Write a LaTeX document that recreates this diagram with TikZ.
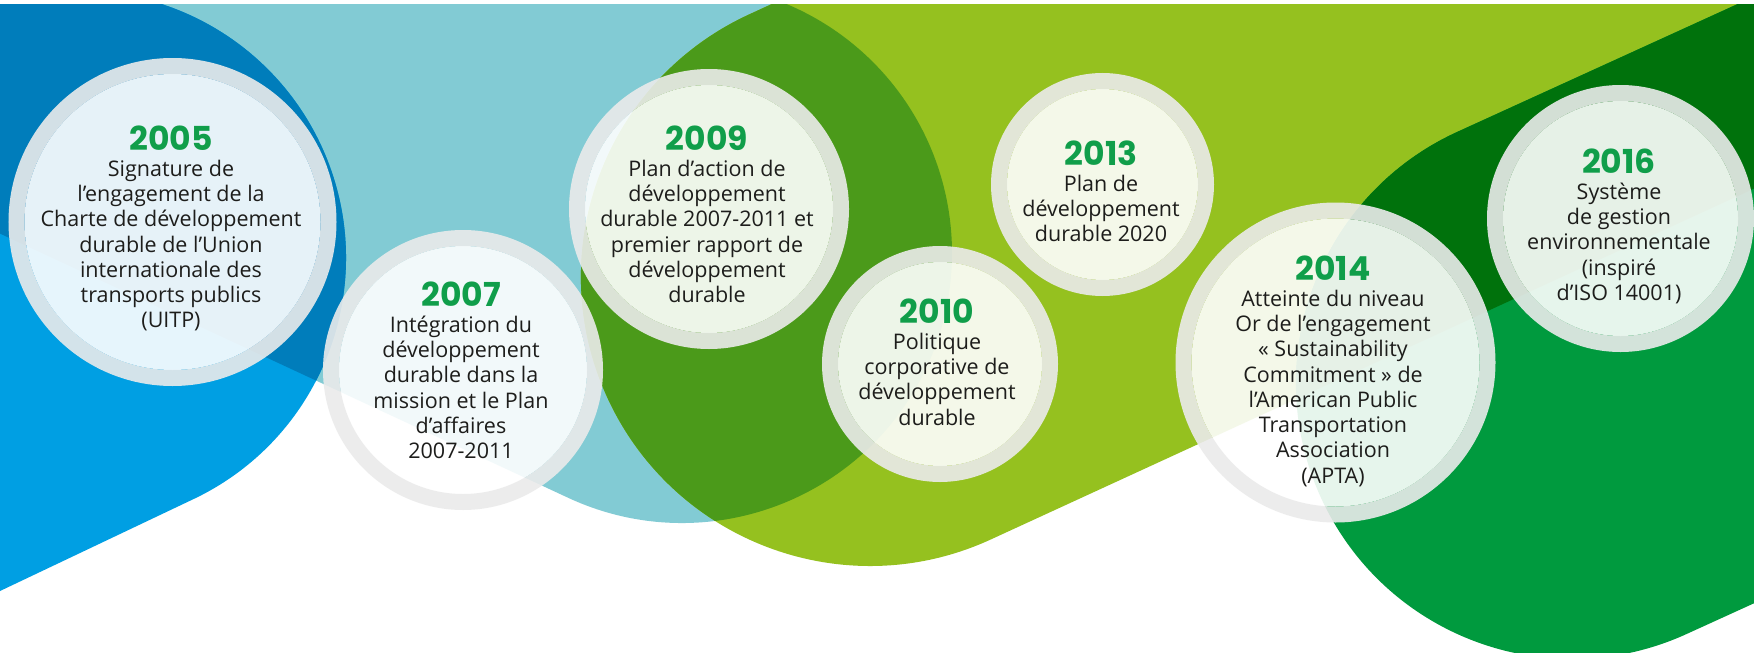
\documentclass[tikz,border=0pt]{standalone}
\usepackage{fontspec}
\setmainfont{Open Sans}
\newfontfamily\yearfont{Poppins}

\definecolor{bandteal}{RGB}{130,203,212}
\definecolor{bandblue}{RGB}{0,159,227}
\definecolor{banddeep}{RGB}{0,125,187}
\definecolor{bandlime}{RGB}{149,193,31}
\definecolor{bandolive}{RGB}{75,154,26}
\definecolor{bandgreen}{RGB}{0,154,62}
\definecolor{bandforest}{RGB}{0,114,12}
\definecolor{ringgray}{RGB}{235,235,235}
\definecolor{yeargreen}{RGB}{16,158,74}
\definecolor{ink}{RGB}{29,29,27}

% les rubans du fond
\newcommand{\blueband}{(-60,619.5) -- (193.5,499.1) arc[start angle=64.6, end angle=-90, radius=267] -- (-60,-9) -- cycle}
\newcommand{\tealband}{(-60,205.7) -- (568.2,497.8) arc[start angle=114.93, end angle=-90, radius=270] -- (-60,-17) -- cycle}
\newcommand{\limeband}{(749.2,14.4) arc[start angle=245.3, end angle=65.3, radius=289] -- (1900,121.4) -- (1900,-515) -- cycle}
\newcommand{\greenband}{(1457.5,131.8) arc[start angle=245.5, end angle=65.5, radius=276] -- (2000,491.2) -- (2000,-115.6) -- cycle}

\newcommand{\yr}[1]{{\yearfont\bfseries\fontsize{33}{25.3}\selectfont\color{yeargreen}#1}\\}

\begin{document}
\begin{tikzpicture}[x=1pt, y=-1pt,
    disc/.style={fill=white, fill opacity=0.9},
    ring/.style={draw=ringgray, draw opacity=0.9, line width=16pt},
    milestone/.style={anchor=north, inner sep=0pt, align=center, text=ink,
      font=\fontsize{21.5}{25.3}\selectfont}]
  \useasboundingbox (0,0) rectangle (1754,653);
  \fill[white] (0,0) rectangle (1754,653);

  \begin{scope}
    \clip (0,4) rectangle (1754,653);
    % bleus
    \fill[bandteal] \tealband;
    \fill[bandblue] \blueband;
    \begin{scope}
      \clip \tealband;
      \fill[banddeep] \blueband;
    \end{scope}
    % verts
    \fill[bandlime] \limeband;
    \begin{scope}
      \clip \tealband;
      \fill[bandolive] \limeband;
    \end{scope}
    \fill[bandgreen] \greenband;
    \begin{scope}
      \clip \limeband;
      \fill[bandforest] \greenband;
    \end{scope}
  \end{scope}

  % bulles
  \coordinate (c2005) at (172.5,222);
  \coordinate (c2007) at (463,370);
  \coordinate (c2009) at (709,209);
  \coordinate (c2010) at (940,364);
  \coordinate (c2013) at (1102.5,184.5);
  \coordinate (c2014) at (1335.5,362.5);
  \coordinate (c2016) at (1620.5,218.5);

  \fill[disc] (c2005) circle[radius=148];   \draw[ring] (c2005) circle[radius=156];
  \fill[disc] (c2007) circle[radius=124];   \draw[ring] (c2007) circle[radius=132];
  \fill[disc] (c2009) circle[radius=124];   \draw[ring] (c2009) circle[radius=132];
  \fill[disc] (c2010) circle[radius=102];   \draw[ring] (c2010) circle[radius=110];
  \fill[disc] (c2013) circle[radius=95.5];  \draw[ring] (c2013) circle[radius=103.5];
  \fill[disc] (c2014) circle[radius=144];   \draw[ring] (c2014) circle[radius=152];
  \fill[disc] (c2016) circle[radius=117.5]; \draw[ring] (c2016) circle[radius=125.5];

  % textes
  \node[milestone] (t2005) at (171,126) {\yr{2005}Signature de\\l’engagement de la\\Charte de développement\\durable de l’Union\\internationale des\\transports publics\\(UITP)};
  \node[milestone] (t2007) at (461,282) {\yr{2007}Intégration du\\développement\\durable dans la\\mission et le Plan\\d’affaires\\2007-2011};
  \node[milestone] (t2009) at (707,126) {\yr{2009}Plan d’action de\\développement\\durable 2007-2011 et\\premier rapport de\\développement\\durable};
  \node[milestone] (t2010) at (937,299) {\yr{2010}Politique\\corporative de\\développement\\durable};
  \node[milestone] (t2013) at (1101,141) {\yr{2013}Plan de\\développement\\durable 2020};
  \node[milestone] (t2014) at (1333,256) {\yr{2014}Atteinte du niveau\\Or de l’engagement\\« Sustainability\\Commitment » de\\l’American Public\\Transportation\\Association\\(APTA)};
  \node[milestone] (t2016) at (1619,149) {\yr{2016}Système\\de gestion\\environnementale\\(inspiré\\d’ISO 14001)};
\end{tikzpicture}
\end{document}
